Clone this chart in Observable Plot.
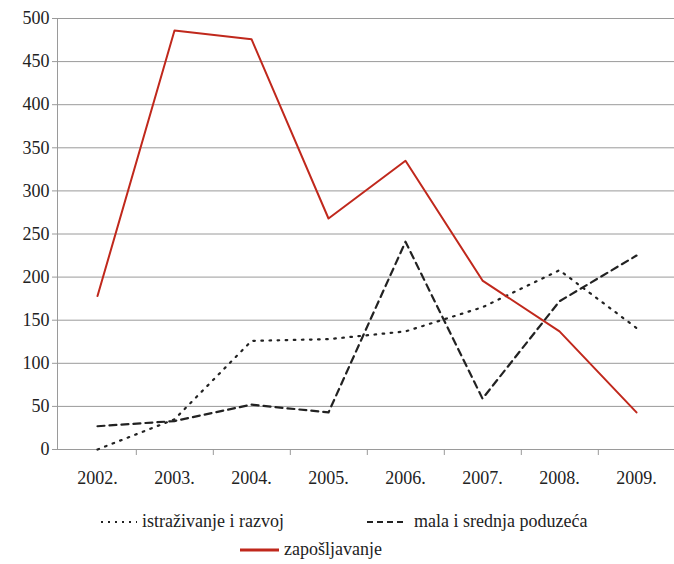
<!DOCTYPE html>
<html>
<head>
<meta charset="utf-8">
<script src="https://cdn.jsdelivr.net/npm/d3@7"></script>
<script src="https://cdn.jsdelivr.net/npm/@observablehq/plot@0.6"></script>
<style>
  body { margin: 0; background: #fff; font-family: "Liberation Serif", "DejaVu Serif", "Times New Roman", serif; color: #222; }
  #chart svg { display: block; }
  .legend { width: 674px; font-size: 18px; color: #222; padding-top: 11px; }
  .row { position: relative; height: 28px; }
  .item { position: absolute; display: flex; align-items: center; white-space: nowrap; }
  .item svg { margin-right: 4px; }
</style>
</head>
<body>
<div id="chart"></div>
<div class="legend">
  <div class="row">
    <div class="item" style="left:100px;top:0px"><svg width="38" height="10"><line x1="1" y1="5" x2="37" y2="5" stroke="#222" stroke-width="2" stroke-dasharray="2,5"/></svg>istraživanje i razvoj</div>
    <div class="item" style="left:366px;top:0px"><svg width="44" height="10"><line x1="1" y1="5" x2="38" y2="5" stroke="#222" stroke-width="2.2" stroke-dasharray="6,4"/></svg>mala i srednja poduzeća</div>
  </div>
  <div class="row">
    <div class="item" style="left:240px;top:0px"><svg width="40" height="10"><line x1="0" y1="5" x2="39" y2="5" stroke="#c0281c" stroke-width="3"/></svg>zapošljavanje</div>
  </div>
</div>
<script>
const years = ["2002.", "2003.", "2004.", "2005.", "2006.", "2007.", "2008.", "2009."];
const istrazivanje = [0, 35, 126, 128, 137, 165, 208, 141];
const mala = [27, 33, 52, 43, 241, 59, 172, 225];
const zaposljavanje = [178, 486, 476, 268, 335, 196, 137, 43];
const yTicks = [0, 50, 100, 150, 200, 250, 300, 350, 400, 450, 500];

const toRows = (vals) => years.map((y, i) => ({year: y, value: vals[i]}));
const boundaries = years.slice(0, -1);

const rangeX = [56, 677];
const step = (rangeX[1] - rangeX[0]) / years.length;
const serif = "'Liberation Serif', 'DejaVu Serif', 'Times New Roman', serif";

const chart = Plot.plot({
  width: 674,
  height: 500,
  marginTop: 18,
  marginBottom: 51,
  marginLeft: 57,
  marginRight: 0,
  style: { fontFamily: serif, fontSize: "18px", color: "#222", background: "#fff" },
  x: { type: "point", domain: years, range: rangeX, padding: 0.5 },
  y: { domain: [0, 500] },
  marks: [
    Plot.gridY(yTicks, { stroke: "#9a9a9a", strokeOpacity: 1, strokeWidth: 1 }),
    Plot.frame({ anchor: "left", stroke: "#9a9a9a" }),
    Plot.ruleX(boundaries, { x: d => d, y1: 0, y2: 0, insetBottom: -6, dx: step / 2, stroke: "#9a9a9a" }),
    Plot.axisY(yTicks, { tickSize: 5, tickPadding: 3, stroke: "#9a9a9a", label: null, fontSize: 18, fontFamily: serif, fill: "#222" }),
    Plot.axisX({ tickSize: 0, tickPadding: 22, label: null, fontSize: 18, fontFamily: serif, fill: "#222" }),
    Plot.line(toRows(istrazivanje), { x: "year", y: "value", stroke: "#222", strokeWidth: 2.2, strokeDasharray: "1.6,6.5", strokeLinecap: "round" }),
    Plot.line(toRows(mala), { x: "year", y: "value", stroke: "#222", strokeWidth: 2.2, strokeDasharray: "7,5" }),
    Plot.line(toRows(zaposljavanje), { x: "year", y: "value", stroke: "#c0281c", strokeWidth: 2 })
  ]
});
document.getElementById("chart").appendChild(chart);
</script>
</body>
</html>
